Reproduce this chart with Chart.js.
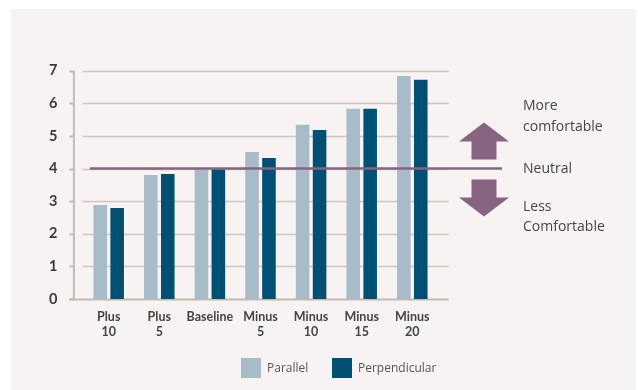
<!DOCTYPE html>
<html>
<head>
<meta charset="utf-8">
<script src="https://cdn.jsdelivr.net/npm/chart.js@4/dist/chart.umd.min.js"></script>
<style>
  html, body { margin: 0; padding: 0; background: #ffffff; }
  #wrap { width: 638px; height: 390px; position: relative; }
</style>
</head>
<body>
<div id="wrap"><canvas id="c" width="638" height="390"></canvas></div>
<script>
// Thermal comfort vote by setpoint offset, for two airflow orientations
const categories = [['Plus', '10'], ['Plus', '5'], 'Baseline', ['Minus', '5'], ['Minus', '10'], ['Minus', '15'], ['Minus', '20']];
const parallelValues = [2.88, 3.80, 3.98, 4.51, 5.34, 5.83, 6.84];
const perpendicularValues = [2.79, 3.83, 3.98, 4.32, 5.18, 5.83, 6.72];
const seriesNames = ['Parallel', 'Perpendicular'];
const neutralValue = 4;
const yTicks = [0, 1, 2, 3, 4, 5, 6, 7];
const sideNotes = [
  { lines: ['More', 'comfortable'], value: 5.6 },
  { lines: ['Neutral'], value: 4 },
  { lines: ['Less', 'Comfortable'], value: 2.52 }
];

const PANEL = '#f7f3f2';
const GRID = '#cfc6bf';
const AXIS = '#c5bab3';
const MAUVE = '#876580';
const COLORS = ['#a7bbc8', '#005073'];

// Panel background, axis frame and grid lines
const framePlugin = {
  id: 'frame',
  beforeDraw(chart) {
    const ctx = chart.ctx;
    ctx.save();
    ctx.fillStyle = PANEL;
    ctx.fillRect(11, 9, 625, 381);
    const y = chart.scales.y;
    const area = chart.chartArea;
    yTicks.forEach(v => {
      const py = Math.round(y.getPixelForValue(v)) + 0.5;
      ctx.strokeStyle = v === 0 ? AXIS : GRID;
      ctx.lineWidth = v === 0 ? 2 : 1.5;
      ctx.beginPath();
      ctx.moveTo(v === 0 ? area.left - 14 : area.left - 1, py);
      ctx.lineTo(area.right + 11, py);
      ctx.stroke();
      // tick mark on the axis
      ctx.strokeStyle = AXIS;
      ctx.lineWidth = 2;
      ctx.beginPath();
      ctx.moveTo(area.left - 14, py);
      ctx.lineTo(area.left - 9, py);
      ctx.stroke();
    });
    ctx.strokeStyle = AXIS;
    ctx.lineWidth = 2;
    ctx.beginPath();
    ctx.moveTo(area.left - 9.5, y.getPixelForValue(yTicks[yTicks.length - 1]));
    ctx.lineTo(area.left - 9.5, y.getPixelForValue(0) + 1);
    ctx.stroke();
    ctx.restore();
  }
};

// Neutral reference line, arrows, side notes and legend
const overlayPlugin = {
  id: 'overlay',
  afterDatasetsDraw(chart) {
    const ctx = chart.ctx;
    const y = chart.scales.y;
    const area = chart.chartArea;
    const ny = y.getPixelForValue(neutralValue);
    ctx.save();
    ctx.strokeStyle = MAUVE;
    ctx.lineWidth = 2.5;
    ctx.beginPath();
    ctx.moveTo(area.left + 6.5, ny);
    ctx.lineTo(502, ny);
    ctx.stroke();

    // up arrow
    ctx.fillStyle = MAUVE;
    const cx = 484;
    ctx.beginPath();
    ctx.moveTo(cx, ny - 46);
    ctx.lineTo(cx + 25, ny - 27);
    ctx.lineTo(cx + 12.5, ny - 27);
    ctx.lineTo(cx + 12.5, ny - 9);
    ctx.lineTo(cx - 12.5, ny - 9);
    ctx.lineTo(cx - 12.5, ny - 27);
    ctx.lineTo(cx - 25, ny - 27);
    ctx.closePath();
    ctx.fill();
    // down arrow
    ctx.beginPath();
    ctx.moveTo(cx, ny + 48);
    ctx.lineTo(cx + 25, ny + 29);
    ctx.lineTo(cx + 12.5, ny + 29);
    ctx.lineTo(cx + 12.5, ny + 11);
    ctx.lineTo(cx - 12.5, ny + 11);
    ctx.lineTo(cx - 12.5, ny + 29);
    ctx.lineTo(cx - 25, ny + 29);
    ctx.closePath();
    ctx.fill();

    // side notes
    ctx.fillStyle = '#454545';
    ctx.font = '14px "Open Sans", sans-serif';
    ctx.textAlign = 'left';
    ctx.textBaseline = 'middle';
    sideNotes.forEach(n => {
      const py = y.getPixelForValue(n.value);
      const h = 20.5;
      const start = py - (n.lines.length - 1) * h / 2;
      n.lines.forEach((t, i) => ctx.fillText(t, 523, start + i * h));
    });

    // legend
    ctx.font = '12px "Open Sans", sans-serif';
    const items = [{ x: 241 }, { x: 332 }];
    chart.data.datasets.forEach((ds, i) => {
      const lx = items[i].x;
      ctx.fillStyle = ds.backgroundColor;
      ctx.fillRect(lx, 358, 20, 20);
      ctx.fillStyle = '#555555';
      ctx.fillText(ds.label, lx + 26, 368.5);
    });
    ctx.restore();
  }
};

new Chart(document.getElementById('c'), {
  type: 'bar',
  data: {
    labels: categories,
    datasets: [
      { label: seriesNames[0], data: parallelValues, backgroundColor: COLORS[0] },
      { label: seriesNames[1], data: perpendicularValues, backgroundColor: COLORS[1] }
    ]
  },
  options: {
    responsive: false,
    animation: false,
    devicePixelRatio: 1,
    layout: { padding: { left: 0, right: 200.4, top: 70.7, bottom: 0 } },
    datasets: { bar: { categoryPercentage: 0.67, barPercentage: 0.8, borderWidth: 0 } },
    plugins: { legend: { display: false }, tooltip: { enabled: false } },
    scales: {
      x: {
        grid: { display: false, drawTicks: false },
        border: { display: false },
        ticks: {
          color: '#444444',
          font: { family: 'Lato', weight: 'bold', size: 12.5, lineHeight: 1.25 },
          padding: 10,
          maxRotation: 0,
          autoSkip: false
        },
        afterFit(s) { s.height = 91; }
      },
      y: {
        min: 0,
        max: 7,
        grid: { display: false, drawTicks: false },
        border: { display: false },
        ticks: {
          stepSize: 1,
          color: '#3b3b3b',
          font: { family: 'Lato', weight: 'bold', size: 14.5 },
          padding: 26
        },
        afterFit(s) { s.width = 83.4; }
      }
    }
  },
  plugins: [framePlugin, overlayPlugin]
});
</script>
</body>
</html>
